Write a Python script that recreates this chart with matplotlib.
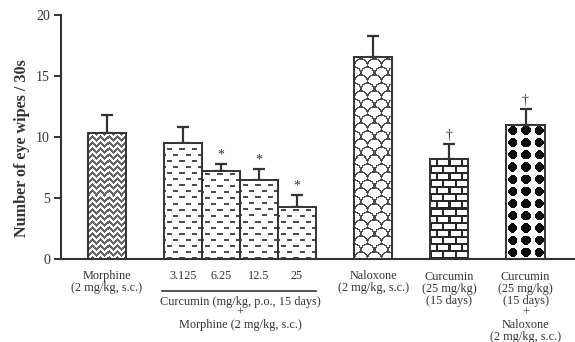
import numpy as np
import matplotlib
matplotlib.use("Agg")
import matplotlib.pyplot as plt
from matplotlib.transforms import blended_transform_factory

# ── data ─────────────────────────────────────────────────────────────
positions = [1.2, 3.2, 4.2, 5.2, 6.2, 8.2, 10.2, 12.2]
means = [10.33, 9.51, 7.21, 6.48, 4.26, 16.56, 8.20, 10.98]
errors = [1.47, 1.31, 0.58, 0.90, 0.99, 1.72, 1.23, 1.32]
marks = ["", "", "*", "*", "*", "", "\u2020", "\u2020"]
patterns = ["zigzag", "dash", "dash", "dash", "dash", "scale", "brick", "diamond"]
dose_labels = ["3.125", "6.25", "12.5", "25"]
yticks = [0, 5, 10, 15, 20]

INK = "#333333"
FONT = ["Liberation Serif", "DejaVu Serif"]
plt.rcParams["font.family"] = FONT

W, H = 575, 342
fig = plt.figure(figsize=(W / 100, H / 100), dpi=100)
ax = fig.add_axes([61 / W, (H - 259) / H, (W - 61) / W, 244 / H])
XMAX, YMAX = 13.5, 20
BAR_W = 1.0
px_x = (W - 61) / XMAX
px_y = 244 / YMAX


def texture(kind, h, w):
    yy, xx = np.mgrid[0:h, 0:w].astype(float)
    img = np.ones((h, w))
    if kind == "zigzag":
        v = (yy + np.abs((xx % 8) - 4)) % 6
        img[v < 2.6] = 0.4
    elif kind == "dash":
        row = np.floor(yy / 6)
        sx = (xx + (row % 2) * 6) % 12
        on = ((yy % 6) < 1.6) & (sx >= 3) & (sx < 8)
        img[on] = 0.3
    elif kind == "scale":
        ph, pw = 8.0, 13.0
        row = np.floor(yy / ph)
        cx = (xx + (row % 2) * pw / 2) % pw - pw / 2
        cy = yy - row * ph
        d = np.sqrt(cx ** 2 + cy ** 2)
        on = (np.abs(d - pw / 2) < 0.7) & (cy >= 0)
        img[on] = 0.3
    elif kind == "brick":
        row = np.floor(yy / 7)
        hline = (yy % 7) < 1.8
        vline = ((xx + (row % 2) * 6) % 12) < 1.8
        img[hline | vline] = 0.15
    elif kind == "diamond":
        dx = (xx % 12.7) - 6.35
        dy = (yy % 12.2) - 6.1
        on = (np.abs(dx) + np.abs(dy) <= 6.0) & (np.maximum(np.abs(dx), np.abs(dy)) <= 4.6)
        img[on] = 0.05
    return img


for x, m, kind in zip(positions, means, patterns):
    h = max(int(round(m * px_y)), 1)
    w = int(round(BAR_W * px_x))
    ax.imshow(texture(kind, h, w), extent=(x - BAR_W / 2, x + BAR_W / 2, 0, m),
              origin="lower", cmap="gray", vmin=0, vmax=1,
              interpolation="nearest", aspect="auto", zorder=2)

ax.errorbar(positions, means, yerr=[np.zeros(len(errors)), errors], fmt="none",
            ecolor=INK, elinewidth=1.6, capsize=4, capthick=1.6, zorder=1)
ax.bar(positions, means, width=BAR_W, facecolor="none", edgecolor=INK,
       linewidth=1.4, zorder=3)

for x, m, e, s in zip(positions, means, errors, marks):
    if s:
        ax.text(x, m + e + 0.2, s, ha="center", va="bottom", fontsize=10, color=INK)

ax.set_xlim(0, XMAX)
ax.set_ylim(0, YMAX)
ax.set_xticks([])
ax.set_yticks(yticks)
ax.tick_params(axis="y", direction="out", length=5, width=1.4, color=INK,
               labelsize=10, labelcolor=INK, pad=3)
for side in ("top", "right"):
    ax.spines[side].set_visible(False)
for side in ("left", "bottom"):
    ax.spines[side].set_linewidth(1.5)
    ax.spines[side].set_color(INK)

fig.text(22 / W, 1 - 148 / H, "Number of eye wipes / 30s", rotation=90,
         ha="center", va="center", fontsize=11.6, fontweight="bold", color=INK)

# category labels below the axis (x in data, y in figure pixels)
tr = blended_transform_factory(ax.transData, fig.transFigure)


def lab(x, ypx, s):
    ax.text(x, 1 - ypx / H, s, transform=tr, ha="center", va="center",
            fontsize=8.8, color=INK, clip_on=False)


lab(positions[0], 276, "Morphine")
lab(positions[0], 288, "(2 mg/kg, s.c.)")
for x, s in zip(positions[1:5], dose_labels):
    lab(x, 276, s)
ax.plot([positions[1] - 0.55, positions[4] + 0.5], [1 - 291 / H] * 2, transform=tr,
        color=INK, lw=1.2, clip_on=False)
gx = (positions[1] + positions[4]) / 2
lab(gx, 302, "Curcumin (mg/kg, p.o., 15 days)")
lab(gx, 313, "+")
lab(gx, 325, "Morphine (2 mg/kg, s.c.)")
lab(positions[5], 276, "Naloxone")
lab(positions[5], 288, "(2 mg/kg, s.c.)")
for i, s in enumerate(["Curcumin", "(25 mg/kg)", "(15 days)"]):
    lab(positions[6], 277 + 12 * i, s)
for i, s in enumerate(["Curcumin", "(25 mg/kg)", "(15 days)", "+", "Naloxone",
                       "(2 mg/kg, s.c.)"]):
    lab(positions[7], 277 + 12 * i, s)

fig.savefig("out.png", dpi=100)
